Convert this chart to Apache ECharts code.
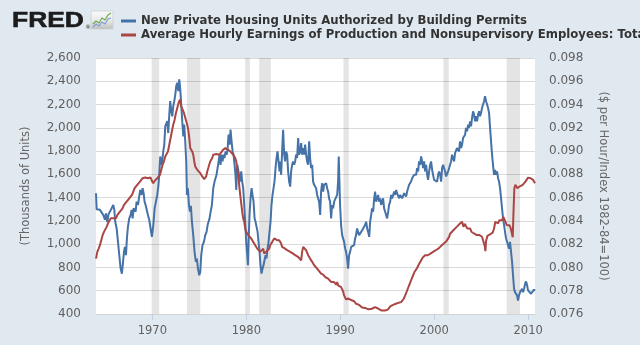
<!DOCTYPE html>
<html>
<head>
<meta charset="utf-8">
<title>Housing Permits and Real Hourly Earnings</title>
<script src="https://cdn.jsdelivr.net/npm/echarts@6.0.0/dist/echarts.min.js"></script>
<style>
  html, body { margin: 0; padding: 0; background: #E1E9F0; }
  #chart { width: 640px; height: 345px; }
</style>
</head>
<body>
<div id="chart"></div>
<script>
// New private housing units authorized by building permits (thousands, SAAR)
const permits = [
  [1964.00,1437],[1964.07,1300],[1964.25,1310],[1964.42,1295],[1964.60,1280],[1964.78,1250],[1964.95,1210],
  [1965.06,1265],[1965.20,1190],[1965.34,1260],[1965.49,1280],[1965.66,1295],[1965.84,1337],[1965.95,1295],
  [1966.05,1190],[1966.20,1135],[1966.34,1020],[1966.48,905],[1966.62,790],[1966.76,747],[1966.87,760],
  [1966.98,935],[1967.08,977],[1967.19,905],[1967.29,1050],[1967.40,1150],[1967.54,1222],[1967.68,1250],
  [1967.79,1294],[1967.90,1222],[1968.00,1308],[1968.11,1322],[1968.22,1280],[1968.32,1366],[1968.47,1337],
  [1968.57,1394],[1968.71,1466],[1968.85,1423],[1968.96,1481],[1969.07,1438],[1969.17,1366],[1969.28,1337],
  [1969.39,1322],[1969.53,1250],[1969.67,1208],[1969.81,1135],[1969.95,1063],[1970.10,1164],[1970.24,1308],
  [1970.38,1366],[1970.52,1423],[1970.63,1495],[1970.73,1596],[1970.84,1754],[1970.95,1682],[1971.05,1711],
  [1971.16,1797],[1971.27,1855],[1971.37,2013],[1971.48,2027],[1971.59,2057],[1971.69,1955],[1971.80,2113],
  [1971.90,2229],[1972.01,2142],[1972.12,2099],[1972.22,2186],[1972.33,2229],[1972.44,2286],[1972.54,2358],
  [1972.65,2387],[1972.76,2315],[1972.86,2416],[1972.97,2330],[1973.07,2200],[1973.18,2057],[1973.29,1927],
  [1973.39,2027],[1973.50,1880],[1973.61,1700],[1973.68,1423],[1973.78,1481],[1973.89,1337],[1974.00,1279],
  [1974.10,1330],[1974.21,1193],[1974.35,1078],[1974.49,934],[1974.63,848],[1974.74,877],[1974.85,790],
  [1974.99,733],[1975.10,762],[1975.20,905],[1975.34,992],[1975.49,1020],[1975.63,1078],[1975.77,1106],
  [1975.88,1164],[1975.98,1193],[1976.09,1222],[1976.20,1279],[1976.34,1337],[1976.48,1481],[1976.62,1538],
  [1976.73,1524],[1976.83,1596],[1976.94,1654],[1977.05,1711],[1977.15,1769],[1977.26,1682],[1977.37,1769],
  [1977.47,1711],[1977.58,1769],[1977.68,1740],[1977.79,1797],[1977.90,1769],[1978.00,1812],[1978.11,1941],
  [1978.22,1855],[1978.32,1984],[1978.43,1884],[1978.54,1797],[1978.64,1769],[1978.75,1682],[1978.85,1596],
  [1978.93,1466],[1979.03,1682],[1979.14,1639],[1979.24,1625],[1979.35,1538],[1979.46,1625],[1979.56,1538],
  [1979.67,1481],[1979.78,1337],[1979.88,1193],[1979.99,1020],[1980.10,905],[1980.17,819],[1980.24,1020],
  [1980.34,1250],[1980.45,1394],[1980.56,1481],[1980.66,1423],[1980.77,1366],[1980.88,1222],[1980.98,1193],
  [1981.09,1193],[1981.20,1106],[1981.30,1020],[1981.41,934],[1981.51,819],[1981.62,747],[1981.73,790],
  [1981.83,819],[1981.94,862],[1982.05,905],[1982.15,877],[1982.26,962],[1982.37,1020],[1982.47,1106],
  [1982.58,1193],[1982.68,1337],[1982.79,1423],[1982.90,1481],[1983.00,1538],[1983.11,1654],[1983.22,1740],
  [1983.32,1797],[1983.43,1711],[1983.54,1625],[1983.60,1711],[1983.71,1596],[1983.81,1797],[1983.92,1984],
  [1984.03,1769],[1984.13,1711],[1984.24,1797],[1984.35,1769],[1984.45,1625],[1984.56,1538],[1984.67,1495],
  [1984.77,1625],[1984.88,1682],[1984.98,1711],[1985.09,1682],[1985.20,1711],[1985.30,1769],[1985.41,1740],
  [1985.52,1912],[1985.62,1769],[1985.73,1797],[1985.84,1869],[1985.94,1769],[1986.05,1826],[1986.16,1769],
  [1986.26,1855],[1986.37,1769],[1986.47,1711],[1986.58,1682],[1986.69,1884],[1986.79,1740],[1986.90,1654],
  [1987.01,1682],[1987.11,1538],[1987.22,1510],[1987.33,1524],[1987.43,1481],[1987.54,1423],[1987.64,1394],
  [1987.75,1366],[1987.86,1251],[1987.96,1452],[1988.07,1524],[1988.18,1452],[1988.28,1510],[1988.39,1495],
  [1988.50,1524],[1988.60,1481],[1988.71,1452],[1988.81,1394],[1988.92,1366],[1989.03,1222],[1989.13,1337],
  [1989.24,1308],[1989.35,1366],[1989.45,1351],[1989.56,1380],[1989.67,1423],[1989.77,1538],[1989.84,1754],
  [1989.91,1538],[1989.98,1337],[1990.09,1164],[1990.20,1078],[1990.30,1092],[1990.41,1020],[1990.52,963],
  [1990.62,934],[1990.73,876],[1990.84,790],[1990.94,905],[1991.05,934],[1991.16,977],[1991.26,991],
  [1991.37,962],[1991.47,991],[1991.58,1049],[1991.69,1078],[1991.79,1135],[1991.90,1106],[1992.01,1078],
  [1992.11,1063],[1992.22,1078],[1992.33,1120],[1992.43,1106],[1992.54,1135],[1992.64,1164],[1992.76,1193],
  [1992.86,1135],[1992.97,1106],[1993.08,1063],[1993.18,1193],[1993.29,1250],[1993.39,1308],[1993.50,1279],
  [1993.61,1394],[1993.71,1452],[1993.82,1366],[1993.93,1394],[1994.03,1423],[1994.14,1366],[1994.25,1394],
  [1994.35,1337],[1994.46,1366],[1994.56,1394],[1994.67,1308],[1994.78,1279],[1994.88,1250],[1994.99,1222],
  [1995.10,1279],[1995.20,1337],[1995.31,1366],[1995.42,1423],[1995.52,1394],[1995.63,1423],[1995.74,1452],
  [1995.84,1423],[1995.95,1466],[1996.05,1438],[1996.16,1423],[1996.27,1394],[1996.37,1423],[1996.48,1409],
  [1996.59,1394],[1996.69,1409],[1996.80,1438],[1996.90,1423],[1997.01,1409],[1997.12,1452],[1997.22,1466],
  [1997.33,1510],[1997.44,1495],[1997.54,1538],[1997.65,1567],[1997.76,1553],[1997.86,1596],[1997.97,1610],
  [1998.08,1596],[1998.18,1654],[1998.29,1625],[1998.39,1711],[1998.50,1682],[1998.61,1754],[1998.71,1711],
  [1998.82,1654],[1998.93,1711],[1999.03,1625],[1999.14,1682],[1999.25,1596],[1999.35,1553],[1999.46,1625],
  [1999.57,1682],[1999.67,1711],[1999.78,1639],[1999.88,1596],[1999.99,1553],[2000.10,1538],[2000.20,1567],
  [2000.31,1538],[2000.42,1596],[2000.52,1625],[2000.63,1596],[2000.74,1538],[2000.84,1654],[2000.95,1682],
  [2001.05,1654],[2001.16,1625],[2001.27,1582],[2001.37,1567],[2001.48,1625],[2001.59,1654],[2001.69,1682],
  [2001.80,1711],[2001.90,1769],[2002.01,1740],[2002.12,1711],[2002.22,1783],[2002.33,1769],[2002.43,1826],
  [2002.54,1840],[2002.65,1797],[2002.75,1884],[2002.86,1826],[2002.97,1855],[2003.07,1912],[2003.18,1898],
  [2003.29,1941],[2003.39,1999],[2003.50,1970],[2003.61,2027],[2003.71,1999],[2003.82,2056],[2003.92,2013],
  [2004.03,2085],[2004.14,2142],[2004.24,2114],[2004.35,2056],[2004.46,2099],[2004.56,2056],[2004.67,2114],
  [2004.78,2142],[2004.88,2099],[2004.99,2128],[2005.09,2170],[2005.20,2200],[2005.31,2229],[2005.41,2272],
  [2005.52,2229],[2005.63,2200],[2005.73,2171],[2005.84,2128],[2005.95,2000],[2006.05,1884],[2006.16,1769],
  [2006.26,1682],[2006.37,1596],[2006.48,1639],[2006.58,1596],[2006.69,1625],[2006.80,1567],[2006.90,1538],
  [2007.01,1481],[2007.12,1394],[2007.22,1308],[2007.33,1222],[2007.44,1164],[2007.54,1106],[2007.65,1049],
  [2007.76,1020],[2007.86,991],[2007.97,962],[2008.07,1020],[2008.18,934],[2008.29,848],[2008.39,733],
  [2008.50,617],[2008.60,588],[2008.71,574],[2008.82,560],[2008.92,516],[2009.03,560],[2009.14,588],
  [2009.24,574],[2009.35,617],[2009.46,588],[2009.57,617],[2009.68,660],[2009.78,680],[2009.89,646],
  [2009.99,603],[2010.10,588],[2010.20,600],[2010.31,574],[2010.41,574],[2010.52,560],[2010.62,610],
  [2010.73,600]
];

// Average hourly earnings of production and nonsupervisory employees deflated by CPI
// ($ per hour / index 1982-84=100)
const earnings = [
  [1964.00,0.08076],[1964.14,0.08134],[1964.28,0.08162],[1964.42,0.08191],[1964.56,0.08234],[1964.71,0.08278],
  [1964.85,0.08306],[1964.99,0.08320],[1965.13,0.08349],[1965.27,0.08377],[1965.42,0.08393],[1965.56,0.08422],
  [1965.70,0.08407],[1965.84,0.08422],[1965.98,0.08407],[1966.12,0.08422],[1966.27,0.08450],[1966.41,0.08450],
  [1966.55,0.08479],[1966.69,0.08465],[1966.83,0.08508],[1966.98,0.08537],[1967.12,0.08551],[1967.26,0.08566],
  [1967.40,0.08580],[1967.54,0.08594],[1967.68,0.08608],[1967.83,0.08623],[1967.97,0.08652],[1968.11,0.08681],
  [1968.25,0.08695],[1968.39,0.08710],[1968.54,0.08724],[1968.68,0.08738],[1968.82,0.08753],[1968.96,0.08767],
  [1969.10,0.08753],[1969.25,0.08773],[1969.39,0.08789],[1969.53,0.08767],[1969.67,0.08782],[1969.81,0.08773],
  [1969.95,0.08744],[1970.10,0.08724],[1970.24,0.08744],[1970.38,0.08753],[1970.52,0.08767],[1970.66,0.08782],
  [1970.81,0.08796],[1970.95,0.08839],[1971.09,0.08882],[1971.23,0.08911],[1971.37,0.08954],[1971.51,0.08969],
  [1971.66,0.08997],[1971.80,0.09055],[1971.94,0.09112],[1972.08,0.09170],[1972.22,0.09227],[1972.37,0.09270],
  [1972.51,0.09328],[1972.65,0.09371],[1972.79,0.09414],[1972.93,0.09443],[1973.07,0.09385],[1973.22,0.09357],
  [1973.36,0.09328],[1973.50,0.09314],[1973.71,0.09227],[1973.82,0.09184],[1973.93,0.09112],[1974.03,0.09026],
  [1974.14,0.09040],[1974.24,0.08997],[1974.35,0.08969],[1974.46,0.08911],[1974.56,0.08868],[1974.67,0.08854],
  [1974.78,0.08839],[1974.88,0.08825],[1974.99,0.08832],[1975.10,0.08810],[1975.20,0.08796],[1975.31,0.08782],
  [1975.41,0.08773],[1975.52,0.08760],[1975.63,0.08767],[1975.73,0.08782],[1975.84,0.08825],[1975.95,0.08854],
  [1976.05,0.08882],[1976.16,0.08911],[1976.27,0.08925],[1976.37,0.08940],[1976.48,0.08969],[1976.59,0.08954],
  [1976.69,0.08969],[1976.80,0.08975],[1976.90,0.08963],[1977.01,0.08983],[1977.12,0.08969],[1977.22,0.08983],
  [1977.33,0.08989],[1977.44,0.08997],[1977.54,0.09012],[1977.65,0.08997],[1977.76,0.09026],[1977.86,0.09012],
  [1977.97,0.09040],[1978.07,0.09012],[1978.18,0.09026],[1978.29,0.08997],[1978.39,0.09012],[1978.50,0.08983],
  [1978.61,0.08969],[1978.71,0.08983],[1978.82,0.08940],[1978.93,0.08911],[1979.03,0.08854],[1979.14,0.08796],
  [1979.24,0.08710],[1979.35,0.08623],[1979.46,0.08551],[1979.56,0.08479],[1979.67,0.08422],[1979.78,0.08393],
  [1979.88,0.08335],[1979.99,0.08306],[1980.10,0.08292],[1980.20,0.08278],[1980.31,0.08278],[1980.41,0.08263],
  [1980.52,0.08249],[1980.63,0.08234],[1980.73,0.08220],[1980.84,0.08205],[1980.95,0.08191],[1981.05,0.08177],
  [1981.16,0.08162],[1981.27,0.08148],[1981.37,0.08162],[1981.48,0.08134],[1981.59,0.08148],[1981.69,0.08134],
  [1981.80,0.08162],[1981.90,0.08119],[1982.01,0.08105],[1982.12,0.08134],[1982.22,0.08119],[1982.33,0.08148],
  [1982.44,0.08162],[1982.54,0.08191],[1982.65,0.08205],[1982.76,0.08220],[1982.86,0.08234],[1982.97,0.08249],
  [1983.07,0.08263],[1983.28,0.08234],[1983.50,0.08234],[1983.71,0.08205],[1983.81,0.08177],[1983.92,0.08191],
  [1984.13,0.08162],[1984.35,0.08148],[1984.45,0.08134],[1984.67,0.08134],[1984.77,0.08119],[1984.98,0.08119],
  [1985.20,0.08105],[1985.41,0.08105],[1985.52,0.08090],[1985.62,0.08076],[1985.73,0.08105],[1985.84,0.08061],
  [1985.94,0.08134],[1986.05,0.08177],[1986.16,0.08162],[1986.26,0.08162],[1986.37,0.08148],[1986.47,0.08134],
  [1986.58,0.08105],[1986.69,0.08090],[1986.79,0.08076],[1986.90,0.08061],[1987.01,0.08048],[1987.11,0.08033],
  [1987.22,0.08019],[1987.33,0.08012],[1987.43,0.08005],[1987.54,0.07990],[1987.64,0.07976],[1987.75,0.07968],
  [1987.86,0.07961],[1987.96,0.07947],[1988.07,0.07961],[1988.18,0.07939],[1988.28,0.07933],[1988.39,0.07918],
  [1988.50,0.07925],[1988.60,0.07910],[1988.71,0.07904],[1988.81,0.07889],[1988.92,0.07896],[1989.03,0.07875],
  [1989.13,0.07860],[1989.24,0.07885],[1989.35,0.07875],[1989.45,0.07881],[1989.56,0.07853],[1989.67,0.07875],
  [1989.77,0.07846],[1989.88,0.07860],[1989.98,0.07846],[1990.09,0.07831],[1990.20,0.07817],[1990.30,0.07795],
  [1990.41,0.07760],[1990.52,0.07748],[1990.62,0.07725],[1990.73,0.07728],[1990.84,0.07735],[1990.94,0.07745],
  [1991.05,0.07740],[1991.16,0.07720],[1991.26,0.07725],[1991.37,0.07705],[1991.47,0.07710],[1991.58,0.07695],
  [1991.69,0.07688],[1991.79,0.07680],[1991.90,0.07672],[1992.01,0.07678],[1992.11,0.07662],[1992.22,0.07670],
  [1992.33,0.07655],[1992.43,0.07660],[1992.54,0.07648],[1992.65,0.07652],[1993.00,0.07640],[1993.36,0.07645],
  [1993.71,0.07659],[1994.07,0.07645],[1994.42,0.07630],[1994.60,0.07645],[1994.78,0.07630],[1994.96,0.07616],
  [1995.06,0.07638],[1995.20,0.07650],[1995.35,0.07667],[1995.49,0.07659],[1995.63,0.07679],[1995.77,0.07673],
  [1995.91,0.07688],[1996.05,0.07679],[1996.20,0.07696],[1996.34,0.07688],[1996.48,0.07702],[1996.62,0.07708],
  [1996.76,0.07731],[1996.91,0.07760],[1997.05,0.07788],[1997.19,0.07817],[1997.33,0.07846],[1997.47,0.07875],
  [1997.61,0.07904],[1997.76,0.07933],[1997.90,0.07961],[1998.04,0.07975],[1998.18,0.07995],[1998.32,0.08019],
  [1998.47,0.08033],[1998.61,0.08061],[1998.75,0.08082],[1998.89,0.08096],[1999.03,0.08105],[1999.17,0.08111],
  [1999.32,0.08105],[1999.46,0.08114],[1999.60,0.08119],[1999.74,0.08128],[1999.88,0.08134],[2000.03,0.08128],
  [2000.17,0.08148],[2000.31,0.08140],[2000.45,0.08162],[2000.59,0.08177],[2000.73,0.08185],[2000.88,0.08191],
  [2001.02,0.08205],[2001.16,0.08220],[2001.30,0.08226],[2001.44,0.08243],[2001.59,0.08263],[2001.69,0.08290],
  [2002.04,0.08320],[2002.40,0.08349],[2002.75,0.08378],[2002.97,0.08392],[2003.11,0.08350],[2003.25,0.08375],
  [2003.39,0.08355],[2003.53,0.08335],[2003.67,0.08320],[2003.82,0.08335],[2003.96,0.08307],[2004.10,0.08320],
  [2004.24,0.08292],[2004.38,0.08307],[2004.53,0.08278],[2004.67,0.08292],[2004.81,0.08278],[2004.95,0.08292],
  [2005.09,0.08264],[2005.24,0.08249],[2005.38,0.08185],[2005.45,0.08140],[2005.52,0.08228],[2005.66,0.08271],
  [2005.80,0.08257],[2005.95,0.08285],[2006.09,0.08271],[2006.23,0.08300],[2006.37,0.08335],[2006.51,0.08393],
  [2006.65,0.08393],[2006.80,0.08378],[2006.94,0.08406],[2007.08,0.08393],[2007.22,0.08406],[2007.36,0.08435],
  [2007.47,0.08420],[2007.58,0.08393],[2007.72,0.08363],[2007.86,0.08378],[2008.00,0.08363],[2008.15,0.08335],
  [2008.25,0.08350],[2008.36,0.08260],[2008.43,0.08450],[2008.53,0.08681],[2008.64,0.08710],[2008.75,0.08695],
  [2008.85,0.08681],[2008.96,0.08666],[2009.07,0.08695],[2009.18,0.08681],[2009.28,0.08695],[2009.42,0.08710],
  [2009.57,0.08724],[2009.71,0.08738],[2009.85,0.08753],[2009.99,0.08772],[2010.13,0.08782],[2010.27,0.08767],
  [2010.41,0.08772],[2010.52,0.08753],[2010.62,0.08767],[2010.73,0.08724]
];

// Recession periods (start, end) as decimal years
const recessions = [
  [1969.92, 1970.73],
  [1973.68, 1975.10],
  [1979.88, 1980.38],
  [1981.37, 1982.61],
  [1990.34, 1990.90],
  [2000.98, 2001.55],
  [2007.72, 2009.14]
];

const yearTicks = [1970, 1980, 1990, 2000, 2010];
const permitsTitle = 'New Private Housing Units Authorized by Building Permits';
const earningsTitle = 'Average Hourly Earnings of Production and Nonsupervisory Employees: Total Private';

const BLUE = '#4572A7';
const RED = '#AA4643';
const AXIS_FONT = 'DejaVu Sans';

const chart = echarts.init(document.getElementById('chart'), null, { renderer: 'canvas' });

chart.setOption({
  backgroundColor: '#E1E9F0',
  animation: false,
  textStyle: { fontFamily: AXIS_FONT },
  grid: {
    left: 96, right: 105, top: 58, bottom: 31,
    show: true, backgroundColor: '#ffffff', borderWidth: 0
  },
  legend: {
    orient: 'vertical',
    left: 116, top: 9,
    itemWidth: 15, itemHeight: 3, itemGap: 0,
    icon: 'rect',
    selectedMode: false,
    textStyle: {
      fontFamily: 'DejaVu Sans', fontWeight: 'bold', fontSize: 11.7,
      color: '#333333', lineHeight: 14
    },
    data: [permitsTitle, earningsTitle]
  },
  graphic: [
    {
      type: 'text', x: 12, y: 21, scaleX: 1.2,
      style: {
        text: 'FRED', fill: '#1c1c1c', stroke: '#1c1c1c', lineWidth: 0.6,
        font: 'bold 22px "Liberation Sans"', verticalAlign: 'middle', align: 'left'
      }
    },
    {
      type: 'text', x: 85, y: 30,
      style: { text: '\u00AE', fill: '#333', font: '6px "DejaVu Sans"', verticalAlign: 'bottom', align: 'left' }
    },
    {
      type: 'rect',
      shape: { x: 91, y: 11, width: 22, height: 18 },
      style: {
        fill: new echarts.graphic.LinearGradient(0, 0, 0, 1, [
          { offset: 0, color: '#fbfbfb' },
          { offset: 0.55, color: '#e8e8e8' },
          { offset: 1, color: '#bdbdbd' }
        ]),
        stroke: '#c8cdd2', lineWidth: 0.8
      }
    },
    {
      type: 'polyline',
      shape: { points: [[93, 24], [96, 21], [99, 23], [102, 18], [105, 20], [108, 15], [111, 13]] },
      style: { stroke: '#6fae4f', lineWidth: 1.2, fill: null }
    },
    {
      type: 'polyline',
      shape: { points: [[93, 27], [96, 24], [99, 26], [102, 22], [105, 24], [108, 19], [111, 18]] },
      style: { stroke: '#7d9fd4', lineWidth: 1.2, fill: null }
    }
  ],
  xAxis: {
    type: 'value',
    min: 1964,
    max: 2010.73,
    splitLine: { show: false },
    axisLine: { show: true, lineStyle: { color: '#d4d4d4', width: 1 } },
    axisTick: {
      show: true, length: 6, customValues: yearTicks,
      lineStyle: { color: '#c0d0e0' }
    },
    axisLabel: {
      customValues: yearTicks,
      formatter: v => String(v),
      color: '#606060', fontFamily: AXIS_FONT, fontSize: 11.5, margin: 11
    }
  },
  yAxis: [
    {
      type: 'value',
      min: 400, max: 2600, interval: 200,
      name: '(Thousands of Units)',
      nameLocation: 'middle', nameGap: 64, nameRotate: 90,
      nameTextStyle: { color: '#666666', fontFamily: AXIS_FONT, fontSize: 11.5 },
      axisLine: { show: false },
      axisTick: { show: false },
      splitLine: { show: true, lineStyle: { color: '#dadada', width: 1 } },
      axisLabel: { color: '#606060', fontFamily: AXIS_FONT, fontSize: 12, margin: 15 }
    },
    {
      type: 'value',
      min: 0.076, max: 0.098, interval: 0.002,
      name: '($ per Hour/Index 1982-84=100)',
      nameLocation: 'middle', nameGap: 62, nameRotate: -90,
      nameTextStyle: { color: '#666666', fontFamily: AXIS_FONT, fontSize: 11.5 },
      axisLine: { show: false },
      axisTick: { show: false },
      splitLine: { show: false },
      axisLabel: {
        formatter: v => v.toFixed(3),
        color: '#606060', fontFamily: AXIS_FONT, fontSize: 12, margin: 14
      }
    }
  ],
  series: [
    {
      name: permitsTitle,
      type: 'line',
      yAxisIndex: 0,
      data: permits,
      showSymbol: false,
      symbol: 'none',
      color: BLUE,
      lineStyle: { color: BLUE, width: 2 },
      emphasis: { disabled: true },
      markArea: {
        silent: true,
        itemStyle: { color: 'rgba(0,0,0,0.105)' },
        data: recessions.map(r => [{ xAxis: r[0] }, { xAxis: r[1] }])
      },
      z: 2
    },
    {
      name: earningsTitle,
      type: 'line',
      yAxisIndex: 1,
      data: earnings,
      showSymbol: false,
      symbol: 'none',
      color: RED,
      lineStyle: { color: RED, width: 2 },
      emphasis: { disabled: true },
      z: 3
    }
  ]
});
</script>
</body>
</html>
